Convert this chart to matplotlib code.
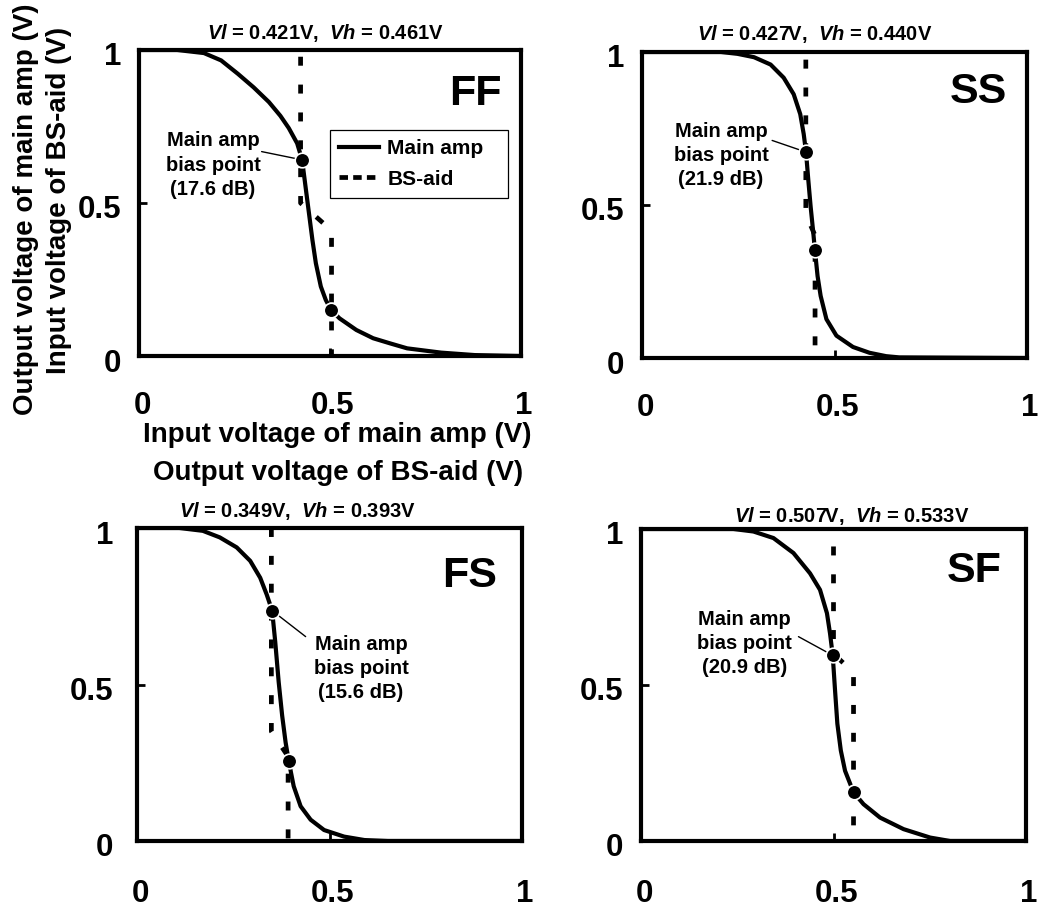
import matplotlib
matplotlib.use('Agg')
import matplotlib.pyplot as plt
from matplotlib.lines import Line2D
from matplotlib.transforms import ScaledTranslation

# ---------------- data ----------------
ticks = [0, 0.5, 1]
tick_labels = ['0', '0.5', '1']

ff_main_x = [0.0, 0.10, 0.17, 0.215, 0.259, 0.300, 0.340, 0.370, 0.392, 0.414, 0.427, 0.436, 0.445,
             0.454, 0.463, 0.476, 0.489, 0.503, 0.525, 0.569, 0.613, 0.658, 0.702, 0.791, 0.879, 1.0]
ff_main_y = [1.0, 1.0, 0.990, 0.966, 0.922, 0.878, 0.830, 0.785, 0.745, 0.695, 0.641, 0.553, 0.466,
             0.379, 0.303, 0.227, 0.183, 0.150, 0.123, 0.085, 0.058, 0.041, 0.025, 0.011, 0.003, 0.0]
ff_bs_x = [0.423, 0.423, 0.504, 0.504]
ff_bs_y = [0.978, 0.50, 0.41, 0.0]
ff_dots_x = [0.427, 0.503]
ff_dots_y = [0.641, 0.150]

ss_main_x = [0.0, 0.205, 0.248, 0.291, 0.334, 0.368, 0.394, 0.411, 0.420, 0.426, 0.432, 0.438,
             0.445, 0.449, 0.456, 0.464, 0.479, 0.505, 0.548, 0.591, 0.634, 0.668, 1.0]
ss_main_y = [1.0, 1.0, 0.994, 0.983, 0.959, 0.916, 0.862, 0.797, 0.732, 0.673, 0.581, 0.495,
             0.408, 0.354, 0.268, 0.203, 0.127, 0.073, 0.036, 0.017, 0.006, 0.002, 0.0]
ss_bs_x = [0.4255, 0.4255, 0.4495, 0.4495]
ss_bs_y = [0.975, 0.47, 0.40, 0.0]
ss_dots_x = [0.426, 0.449]
ss_dots_y = [0.673, 0.354]

fs_main_x = [0.0, 0.110, 0.171, 0.215, 0.259, 0.294, 0.320, 0.337, 0.351, 0.359, 0.368, 0.377,
             0.386, 0.394, 0.407, 0.425, 0.451, 0.486, 0.538, 0.591, 0.652, 1.0]
fs_main_y = [1.0, 1.0, 0.991, 0.970, 0.938, 0.895, 0.841, 0.787, 0.736, 0.637, 0.508, 0.401,
             0.315, 0.256, 0.175, 0.111, 0.068, 0.035, 0.014, 0.003, 0.0, 0.0]
fs_bs_x = [0.349, 0.349, 0.3925, 0.3925]
fs_bs_y = [1.0, 0.35, 0.27, 0.0]
fs_dots_x = [0.351, 0.394]
fs_dots_y = [0.736, 0.256]

sf_main_x = [0.0, 0.240, 0.292, 0.344, 0.396, 0.439, 0.465, 0.483, 0.491, 0.498, 0.504, 0.510,
             0.519, 0.530, 0.552, 0.578, 0.621, 0.682, 0.751, 0.803, 1.0]
sf_main_y = [1.0, 1.0, 0.992, 0.971, 0.923, 0.858, 0.805, 0.730, 0.665, 0.595, 0.483, 0.376,
             0.290, 0.225, 0.156, 0.118, 0.075, 0.038, 0.011, 0.0, 0.0]
sf_bs_x = [0.500, 0.500, 0.552, 0.552]
sf_bs_y = [0.944, 0.60, 0.54, 0.0]
sf_dots_x = [0.498, 0.552]
sf_dots_y = [0.595, 0.156]

corners = ['FF', 'SS', 'FS', 'SF']
vl_values = ['0.421', '0.427', '0.349', '0.507']
vh_values = ['0.461', '0.440', '0.393', '0.533']
gain_db = ['17.6', '21.9', '15.6', '20.9']

series_names = ['Main amp', 'BS-aid']
xlabel_lines = ['Input voltage of main amp (V)', 'Output voltage of BS-aid (V)']
ylabel_lines = ['Output voltage of main amp (V)', 'Input voltage of BS-aid (V)']

# ---------------- style ----------------
plt.rcParams['font.family'] = ['Liberation Sans', 'DejaVu Sans']
plt.rcParams['font.weight'] = 'bold'
plt.rcParams['mathtext.fontset'] = 'custom'
plt.rcParams['mathtext.it'] = 'Liberation Sans:italic:bold'
plt.rcParams['mathtext.rm'] = 'Liberation Sans:bold'
plt.rcParams['mathtext.bf'] = 'Liberation Sans:bold'

W, H = 1038, 909
fig = plt.figure(figsize=(W / 100, H / 100), dpi=100)


def fx(px):
    return px / W


def fy(py):
    return 1 - py / H


panels = [
    dict(box=(139, 50, 521, 356), main=(ff_main_x, ff_main_y), bs=(ff_bs_x, ff_bs_y),
         dots=(ff_dots_x, ff_dots_y), title=(325, 39), label=(502, 105),
         ann_xy=(0.194, 0.624), ann_from=(0.321, 0.668), ypad=13, xpad=25),
    dict(box=(642, 52, 1027, 358), main=(ss_main_x, ss_main_y), bs=(ss_bs_x, ss_bs_y),
         dots=(ss_dots_x, ss_dots_y), title=(815, 40), label=(1007, 103),
         ann_xy=(0.205, 0.662), ann_from=(0.338, 0.711), ypad=13, xpad=25),
    dict(box=(137, 528, 522, 841), main=(fs_main_x, fs_main_y), bs=(fs_bs_x, fs_bs_y),
         dots=(fs_dots_x, fs_dots_y), title=(297, 517), label=(497, 587),
         ann_xy=(0.582, 0.551), ann_from=(0.438, 0.653), ypad=17, xpad=27),
    dict(box=(641, 529, 1026, 841), main=(sf_main_x, sf_main_y), bs=(sf_bs_x, sf_bs_y),
         dots=(sf_dots_x, sf_dots_y), title=(852, 522), label=(1002, 582),
         ann_xy=(0.268, 0.633), ann_from=(0.409, 0.655), ypad=13, xpad=27),
]

for i, p in enumerate(panels):
    l, t, r, b = p['box']
    ax = fig.add_axes([fx(l), fy(b), (r - l) / W, (b - t) / H])
    ax.plot(*p['main'], color='black', lw=3.0, solid_joinstyle='round', zorder=3)
    ax.plot(*p['bs'], color='black', lw=3.4, dashes=(1.9, 4.0), dash_capstyle='butt', zorder=2)
    ax.plot(*p['dots'], ls='none', marker='o', ms=10.5, mfc='black', mec='white', mew=1.2,
            zorder=5)
    dx, dy = p['dots'][0][0], p['dots'][1][0]
    ax.annotate('', xy=(dx, dy), xytext=p['ann_from'],
                arrowprops=dict(arrowstyle='-', lw=1.0, color='black', shrinkA=0, shrinkB=0),
                zorder=4)
    ax.text(p['ann_xy'][0], p['ann_xy'][1],
            'Main amp\nbias point\n(%s dB)' % gain_db[i],
            ha='center', va='center', multialignment='center', fontsize=14.5,
            fontweight='bold', linespacing=1.35)
    ax.set_xlim(0, 1)
    ax.set_ylim(0, 1)
    ax.set_xticks(ticks)
    ax.set_xticklabels(tick_labels)
    ax.set_yticks(ticks)
    ax.set_yticklabels(tick_labels)
    ax.tick_params(direction='in', length=6, width=2, labelsize=22.5)
    ax.tick_params(axis='y', pad=p['ypad'])
    ax.tick_params(axis='x', pad=p['xpad'])
    for s in ax.spines.values():
        s.set_linewidth(3)
    off_y = ScaledTranslation(0, -0.04, fig.dpi_scale_trans)
    for lbl in ax.get_yticklabels():
        lbl.set_transform(lbl.get_transform() + off_y)
    off_x = ScaledTranslation(0.03, 0, fig.dpi_scale_trans)
    for lbl in ax.get_xticklabels():
        lbl.set_transform(lbl.get_transform() + off_x)

    # corner label
    fig.text(fx(p['label'][0]), fy(p['label'][1]), corners[i], ha='right', va='baseline',
             fontsize=31, fontweight='bold')
    # title
    fig.text(fx(p['title'][0]), fy(p['title'][1]),
             r'$Vl$ = %sV,  $Vh$ = %sV' % (vl_values[i], vh_values[i]),
             ha='center', va='baseline', fontsize=14.5, fontweight='bold')

    if i == 0:
        handles = [Line2D([], [], color='black', lw=3.0),
                   Line2D([], [], color='black', lw=3.4, dashes=(1.8, 1.1),
                          dash_capstyle='butt')]
        leg = ax.legend(handles, series_names, loc='upper left',
                        bbox_to_anchor=(0.50, 0.521, 0.465, 0.218), mode='expand',
                        frameon=True, fancybox=False, edgecolor='black', framealpha=1,
                        prop=dict(size=15, weight='bold'), handlelength=1.9,
                        handletextpad=0.4, labelspacing=0.55, borderpad=0.45,
                        borderaxespad=0)
        leg.get_frame().set_linewidth(0.9)

# axis labels (FF only)
fig.text(fx(337), fy(442), xlabel_lines[0], ha='center', va='baseline', fontsize=20,
         fontweight='bold')
fig.text(fx(338), fy(480), xlabel_lines[1], ha='center', va='baseline', fontsize=20,
         fontweight='bold')
fig.text(fx(33), fy(209), ylabel_lines[0], ha='center', va='baseline', rotation=90,
         rotation_mode='anchor', fontsize=20, fontweight='bold')
fig.text(fx(66), fy(200), ylabel_lines[1], ha='center', va='baseline', rotation=90,
         rotation_mode='anchor', fontsize=20, fontweight='bold')

fig.savefig('out.png', dpi=100)
